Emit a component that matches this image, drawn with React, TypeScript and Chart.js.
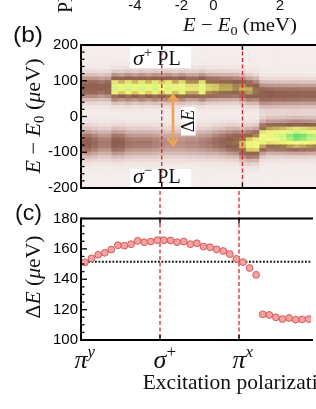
import React, { useEffect, useRef } from 'react';
import { Chart, registerables } from 'chart.js';

Chart.register(...registerables);
Chart.defaults.font.family = '"Liberation Sans", Arial, sans-serif';

// ---------------- data ----------------
// excitation polarization axis (QWP angle, deg): π^y = 0, σ+ = 45, π^x = 90
const polarTickValues = [0, 45, 90];
const polarTickBase = ['π', 'σ', 'π'];
const polarTickSup = ['y', '+', 'x'];
const markerAngles = [45, 90];

// panel (c): splitting ΔE (µeV)
const polarAngles = [2.25, 6, 9.75, 13.5, 17.25, 21, 24.75, 28.5, 32.25, 36, 39.75, 43.5, 47.25, 51, 54.75, 58.5, 62.25, 66, 69.75, 73.5, 77.25, 81, 84.75, 88.5, 92.25, 96, 99.75, 103.5, 107.25, 111, 114.75, 118.5, 122.25, 126, 129.75];
const deltaE = [151.1, 153.7, 156.1, 157.4, 159.5, 162.4, 162.1, 163.1, 165.3, 164.4, 164.8, 165.7, 165.7, 165.5, 164.4, 164.8, 163.1, 163.7, 161.5, 161.1, 159.7, 158.6, 156.6, 153.4, 151.3, 147.4, 142.9, 116.9, 116.5, 114.9, 113.8, 114.5, 113.4, 113.6, 113.8];
const deltaERef = 151.5;

// panel (b): PL map, per polarization cell: σ+ and σ- peak energy (µeV) and intensity
const heatAngles = [0.375, 4.125, 7.875, 11.625, 15.375, 19.125, 22.875, 26.625, 30.375, 34.125, 37.875, 41.625, 45.375, 49.125, 52.875, 56.625, 60.375, 64.125, 67.875, 71.625, 75.375, 79.125, 82.875, 86.625, 90.375, 94.125, 97.875, 101.625, 105.375, 109.125, 112.875, 116.625, 120.375, 124.125, 127.875, 131.625];
const upperPeakE = [79, 79, 79, 79, 79, 79, 79, 79, 79, 79, 79, 79, 79, 79, 79, 79, 79, 79, 79, 79, 79, 79, 79, 79, 76, 72, 70, 60, 60, 60, 60, 60, 60, 60, 60, 60];
const upperAmp = [0.48, 0.5, 0.5, 0.45, 0.5, 0.88, 0.78, 0.88, 0.78, 0.88, 0.78, 0.88, 0.8, 0.88, 0.76, 0.86, 0.72, 0.72, 0.86, 0.68, 0.66, 0.62, 0.62, 0.58, 0.62, 0.62, 0.55, 0.5, 0.48, 0.46, 0.46, 0.45, 0.45, 0.44, 0.44, 0.44];
const lowerPeakE = [-76, -76, -76, -76, -76, -76, -76, -76, -76, -76, -76, -76, -76, -76, -76, -76, -76, -76, -76, -76, -74, -74, -74, -74, -80, -80, -78, -62, -58, -58, -58, -58, -58, -58, -58, -58];
const lowerAmp = [0.45, 0.48, 0.42, 0.36, 0.36, 0.48, 0.46, 0.38, 0.36, 0.36, 0.36, 0.34, 0.32, 0.3, 0.3, 0.3, 0.32, 0.32, 0.34, 0.36, 0.4, 0.44, 0.5, 0.54, 0.64, 0.76, 0.8, 0.84, 0.84, 0.86, 0.88, 0.94, 0.98, 0.96, 0.92, 0.9];
const energyBins = [-195, -185, -175, -165, -155, -145, -135, -125, -115, -105, -95, -85, -75, -65, -55, -45, -35, -25, -15, -5, 5, 15, 25, 35, 45, 55, 65, 75, 85, 95, 105, 115, 125, 135, 145, 155, 165, 175, 185, 195];
const binWidth = 10;
const upperWidth = 24;
const lowerWidth = 28;
const background = 0.03;

// fragment of panel (a) axis above
const topTickLabels = ['-4', '-2', '0', '2'];

// ---------------- styling helpers ----------------
const SERIF = '"Liberation Serif", "DejaVu Serif", serif';
const SANS = '"Liberation Sans", Arial, sans-serif';
const RED = '#e0262a';
const ORANGE = '#f0a254';

const CMAP: [number, number[]][] = [
  [0.0, [247, 243, 242]],
  [0.06, [242, 232, 230]],
  [0.15, [229, 208, 204]],
  [0.28, [198, 162, 154]],
  [0.4, [162, 114, 102]],
  [0.5, [141, 92, 79]],
  [0.58, [152, 118, 76]],
  [0.66, [204, 190, 98]],
  [0.75, [237, 237, 122]],
  [0.85, [243, 250, 134]],
  [0.93, [190, 242, 122]],
  [1.0, [104, 222, 112]],
];
function cmap(v: number) {
  const c = Math.max(0, Math.min(1, v));
  for (let i = 1; i < CMAP.length; i++) {
    if (c <= CMAP[i][0]) {
      const [v0, c0] = CMAP[i - 1];
      const [v1, c1] = CMAP[i];
      const t = (c - v0) / (v1 - v0);
      const r = c0.map((a, k) => Math.round(a + (c1[k] - a) * t));
      return `rgb(${r[0]},${r[1]},${r[2]})`;
    }
  }
  const l = CMAP[CMAP.length - 1][1];
  return `rgb(${l[0]},${l[1]},${l[2]})`;
}
function intensity(j: number, e: number) {
  const g = (d: number, s: number) => Math.exp(-0.5 * (d / s) * (d / s));
  return background + upperAmp[j] * g(e - upperPeakE[j], upperWidth) + lowerAmp[j] * g(e - lowerPeakE[j], lowerWidth);
}

type Seg = { t: string; f: string; dy?: number };
function drawRich(ctx: CanvasRenderingContext2D, segs: Seg[], x: number, y: number, o: any = {}) {
  ctx.save();
  ctx.translate(x, y);
  if (o.rot) ctx.rotate(o.rot);
  let w = 0;
  for (const s of segs) { ctx.font = s.f; w += ctx.measureText(s.t).width; }
  let sx = o.sx ?? 1;
  if (o.fit) sx = o.fit / w;
  ctx.scale(sx, 1);
  let cx = o.align === 'center' ? -w / 2 : o.align === 'right' ? -w : 0;
  ctx.textAlign = 'left';
  ctx.textBaseline = 'alphabetic';
  for (const s of segs) {
    ctx.font = s.f;
    ctx.fillText(s.t, cx, s.dy ?? 0);
    cx += ctx.measureText(s.t).width;
  }
  ctx.restore();
}
function seg(ctx: CanvasRenderingContext2D, x1: number, y1: number, x2: number, y2: number) {
  ctx.beginPath(); ctx.moveTo(x1, y1); ctx.lineTo(x2, y2); ctx.stroke();
}

// ---------------- plugins ----------------
const decorB = {
  id: 'decorB',
  afterDatasetsDraw(chart: any) {
    const { ctx, chartArea: a, scales } = chart;
    const x = scales.x, y = scales.y;
    ctx.save();
    // label boxes
    ctx.fillStyle = '#fff';
    ctx.fillRect(130, 47, 61, 21);
    ctx.fillRect(130, 169, 61, 21);
    ctx.fillRect(181, 107, 14.5, 28.5);
    ctx.fillStyle = '#111';
    drawRich(ctx, [
      { t: 'σ', f: `italic 22px ${SERIF}` },
      { t: '+', f: `15px ${SERIF}`, dy: -8 },
      { t: ' PL', f: `20px ${SERIF}` },
    ], 133, 65);
    drawRich(ctx, [
      { t: 'σ', f: `italic 22px ${SERIF}` },
      { t: '−', f: `15px ${SERIF}`, dy: -8 },
      { t: ' PL', f: `20px ${SERIF}` },
    ], 133, 183);
    drawRich(ctx, [
      { t: 'Δ', f: `18px ${SERIF}` },
      { t: 'E', f: `italic 18px ${SERIF}` },
    ], 193.5, 121, { rot: -Math.PI / 2, align: 'center' });
    // ΔE arrow between the two lines
    const ax = x.getPixelForValue(51.3);
    const ay1 = y.getPixelForValue(61);
    const ay2 = y.getPixelForValue(-82);
    ctx.strokeStyle = ORANGE;
    ctx.lineWidth = 2.6;
    ctx.lineCap = 'round';
    ctx.lineJoin = 'round';
    seg(ctx, ax, ay1 + 1, ax, ay2 - 1);
    ctx.beginPath(); ctx.moveTo(ax - 4.5, ay1 + 6.5); ctx.lineTo(ax, ay1 + 0.5); ctx.lineTo(ax + 4.5, ay1 + 6.5); ctx.stroke();
    ctx.beginPath(); ctx.moveTo(ax - 4.5, ay2 - 6.5); ctx.lineTo(ax, ay2 - 0.5); ctx.lineTo(ax + 4.5, ay2 - 6.5); ctx.stroke();
    ctx.lineCap = 'butt';
    // red dashed markers
    ctx.strokeStyle = RED;
    ctx.lineWidth = 1.3;
    ctx.setLineDash([4, 2.5]);
    for (const m of markerAngles) {
      const px = x.getPixelForValue(m);
      seg(ctx, px, a.top, px, a.bottom);
    }
    ctx.setLineDash([]);
    // frame
    ctx.strokeStyle = '#000';
    ctx.lineWidth = 2;
    seg(ctx, a.left, a.top, a.right + 2, a.top);
    seg(ctx, a.left, a.bottom, a.right + 2, a.bottom);
    seg(ctx, a.left, a.top - 1, a.left, a.bottom + 1);
    ctx.lineWidth = 1.3;
    for (let v = -200; v <= 200; v += 20) {
      const py = y.getPixelForValue(v);
      seg(ctx, a.left, py, a.left + (v % 100 === 0 ? 6 : 3.5), py);
    }
    for (const t of polarTickValues) {
      const px = x.getPixelForValue(t);
      seg(ctx, px, a.top, px, a.top + 5);
      seg(ctx, px, a.bottom, px, a.bottom - 5);
    }
    // outer texts
    ctx.fillStyle = '#111';
    drawRich(ctx, [
      { t: 'E', f: `italic 21px ${SERIF}` },
      { t: ' − ', f: `21px ${SERIF}` },
      { t: 'E', f: `italic 21px ${SERIF}` },
      { t: '0', f: `14px ${SERIF}`, dy: 4 },
      { t: ' (', f: `21px ${SERIF}` },
      { t: 'μ', f: `italic 21px ${SERIF}` },
      { t: 'eV)', f: `21px ${SERIF}` },
    ], 40, 116, { rot: -Math.PI / 2, align: 'center', fit: 115 });
    drawRich(ctx, [{ t: '(b)', f: `22px ${SANS}` }], 13, 42, { fit: 30 });
    // fragment of the panel above
    drawRich(ctx, [{ t: 'PL', f: `20px ${SERIF}` }], 72, 13, { rot: -Math.PI / 2 });
    const topX = [135, 181.5, 213.5, 280];
    ctx.font = `15px ${SANS}`;
    ctx.textAlign = 'center';
    ctx.textBaseline = 'alphabetic';
    topTickLabels.forEach((l, i) => ctx.fillText(l, topX[i], 10));
    drawRich(ctx, [
      { t: 'E', f: `italic 19px ${SERIF}` },
      { t: ' − ', f: `19px ${SERIF}` },
      { t: 'E', f: `italic 19px ${SERIF}` },
      { t: '0', f: `13px ${SERIF}`, dy: 4 },
      { t: ' (meV)', f: `19px ${SERIF}` },
    ], 183, 31, { fit: 114 });
    ctx.restore();
  },
};

const decorC = {
  id: 'decorC',
  beforeDatasetsDraw(chart: any) {
    const { ctx, chartArea: a, scales } = chart;
    ctx.save();
    ctx.strokeStyle = RED;
    ctx.lineWidth = 1.3;
    ctx.setLineDash([4, 2.5]);
    for (const m of markerAngles) {
      const px = scales.x.getPixelForValue(m);
      seg(ctx, px, 0, px, a.bottom);
    }
    ctx.restore();
  },
  afterDatasetsDraw(chart: any) {
    const { ctx, chartArea: a, scales } = chart;
    const x = scales.x, y = scales.y;
    ctx.save();
    ctx.strokeStyle = '#000';
    ctx.lineWidth = 2;
    seg(ctx, a.left, a.top, a.right + 2, a.top);
    seg(ctx, a.left, a.bottom, a.right + 2, a.bottom);
    seg(ctx, a.left, a.top - 1, a.left, a.bottom + 1);
    ctx.lineWidth = 1.3;
    for (let v = 100; v <= 180; v += 5) {
      const py = y.getPixelForValue(v);
      seg(ctx, a.left, py, a.left + (v % 20 === 0 ? 6 : 3.5), py);
    }
    for (const t of polarTickValues) {
      const px = x.getPixelForValue(t);
      seg(ctx, px, a.top, px, a.top + 5);
      seg(ctx, px, a.bottom, px, a.bottom - 5);
    }
    ctx.fillStyle = '#111';
    // x tick labels
    polarTickValues.forEach((t, i) => {
      const px = x.getPixelForValue(t);
      const baseFont = `italic 26px ${SERIF}`;
      ctx.font = baseFont;
      const bw = ctx.measureText(polarTickBase[i]).width;
      const supFont = polarTickSup[i] === '+' ? `17px ${SERIF}` : `italic 17px ${SERIF}`;
      drawRich(ctx, [
        { t: polarTickBase[i], f: baseFont },
        { t: polarTickSup[i], f: supFont, dy: -11 },
      ], px - bw / 2, a.bottom + 28);
    });
    drawRich(ctx, [{ t: 'Excitation polarization', f: `21.5px ${SERIF}` }], 142.7, a.bottom + 49);
    drawRich(ctx, [
      { t: 'Δ', f: `21px ${SERIF}` },
      { t: 'E', f: `italic 21px ${SERIF}` },
      { t: ' (', f: `21px ${SERIF}` },
      { t: 'μ', f: `italic 21px ${SERIF}` },
      { t: 'eV)', f: `21px ${SERIF}` },
    ], 40, 86, { rot: -Math.PI / 2, align: 'center', fit: 83 });
    drawRich(ctx, [{ t: '(c)', f: `22px ${SANS}` }], 15, 28.5, { fit: 27 });
    ctx.restore();
  },
};

const yTicks = (step: number) => ({
  stepSize: step,
  color: '#000',
  padding: 3,
  font: { family: SANS, size: 15 },
});

export default function App() {
  const refB = useRef<HTMLCanvasElement>(null);
  const refC = useRef<HTMLCanvasElement>(null);

  useEffect(() => {
    document.body.style.margin = '0';
    const heatDatasets = energyBins.map((e) => ({
      type: 'bar',
      data: heatAngles.map((ang) => ({ x: ang, y: [e - binWidth / 2, e + binWidth / 2] })),
      backgroundColor: heatAngles.map((_, j) => cmap(intensity(j, e))),
      borderWidth: 0,
      barPercentage: 1,
      categoryPercentage: 1,
      grouped: false,
      inflateAmount: 0.6,
      clip: 0,
    }));

    const chartB = new Chart(refB.current as HTMLCanvasElement, {
      type: 'bar',
      data: { datasets: heatDatasets as any },
      options: {
        responsive: false,
        animation: false,
        events: [],
        layout: { padding: { left: 0, right: 0, top: 45, bottom: 9 } },
        plugins: { legend: { display: false }, tooltip: { enabled: false } },
        scales: {
          x: { type: 'linear', min: 0, max: 131, display: false, offset: false },
          y: {
            type: 'linear',
            min: -200,
            max: 200,
            ticks: yTicks(100),
            grid: { display: false, drawTicks: false },
            border: { display: true, color: '#000', width: 2 },
            afterFit: (s: any) => { s.width = 81; },
          },
        },
      } as any,
      plugins: [decorB],
    });

    const chartC = new Chart(refC.current as HTMLCanvasElement, {
      type: 'scatter',
      data: {
        datasets: [
          {
            type: 'scatter',
            data: polarAngles.map((ang, i) => ({ x: ang, y: deltaE[i] })),
            pointRadius: 3.4,
            pointBorderWidth: 1,
            backgroundColor: '#f4a3a3',
            borderColor: '#d65858',
            order: 0,
          },
          {
            type: 'line',
            data: [{ x: 0, y: deltaERef }, { x: 131, y: deltaERef }],
            borderColor: '#111',
            borderWidth: 2,
            borderDash: [1.8, 1.7],
            pointRadius: 0,
            showLine: true,
            fill: false,
            order: 1,
          },
        ] as any,
      },
      options: {
        responsive: false,
        animation: false,
        events: [],
        layout: { padding: { left: 0, right: 0, top: 27.5, bottom: 69 } },
        plugins: { legend: { display: false }, tooltip: { enabled: false } },
        scales: {
          x: { type: 'linear', min: 0, max: 131, display: false },
          y: {
            type: 'linear',
            min: 100,
            max: 180,
            ticks: yTicks(20),
            grid: { display: false, drawTicks: false },
            border: { display: true, color: '#000', width: 2 },
            afterFit: (s: any) => { s.width = 81; },
          },
        },
      } as any,
      plugins: [decorC],
    });

    return () => {
      chartB.destroy();
      chartC.destroy();
    };
  }, []);

  return (
    <div style={{ position: 'absolute', left: 0, top: 0, width: 316, height: 409, background: '#fff', overflow: 'hidden' }}>
      <canvas ref={refB} width={316} height={200} style={{ position: 'absolute', left: 0, top: 0 }} />
      <canvas ref={refC} width={316} height={218} style={{ position: 'absolute', left: 0, top: 191 }} />
    </div>
  );
}
